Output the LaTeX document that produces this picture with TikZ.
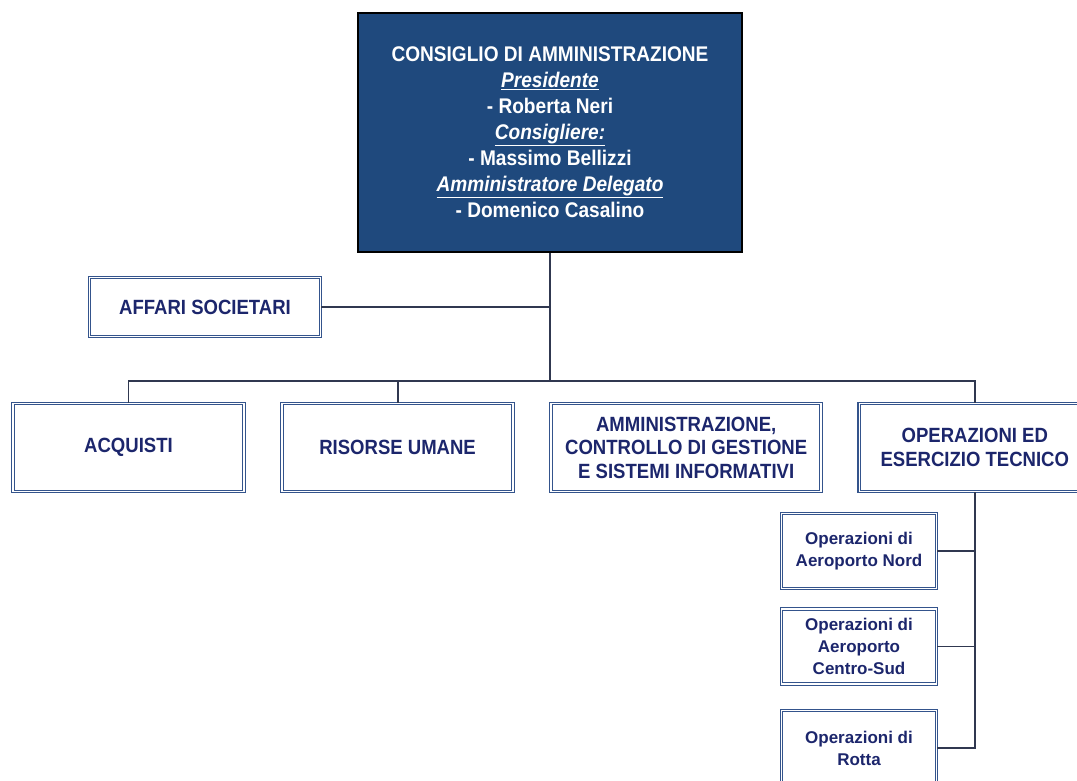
\documentclass[tikz,border=0pt]{standalone}
\usepackage{fontspec}
\setmainfont{Liberation Sans}
\newfontfamily\narrowfont{Liberation Sans}[FakeStretch=0.9]
\usepackage{tikz}
\usetikzlibrary{positioning}
\definecolor{boardblue}{RGB}{31,73,125}
\definecolor{boxblue}{RGB}{52,84,140}
\definecolor{labelblue}{RGB}{28,38,108}
\definecolor{linegray}{RGB}{48,56,80}

\begin{document}
\begin{tikzpicture}[
 x=1pt,y=-1pt,
 node distance=37pt,
 boardbox/.style={rectangle,draw=black,line width=2.4pt,fill=boardblue,
   text=white,minimum width=384pt,minimum height=239pt,align=center,
   font=\narrowfont\bfseries\fontsize{21.2}{26}\selectfont},
 unitbox/.style={rectangle,draw=boxblue,line width=1.1pt,double=white,
   double distance=1.6pt,text=labelblue,align=center,
   minimum width=231pt,minimum height=88pt,
   font=\narrowfont\bfseries\fontsize{20.6}{23.5}\selectfont},
 subbox/.style={unitbox,minimum width=155pt,minimum height=75pt,
   font=\bfseries\fontsize{17}{22}\selectfont},
 conn/.style={draw=linegray,line width=1.8pt}]
 \clip (0,0) rectangle (1077,780);
 \node[boardbox] (board) at (550,132.5)
   {CONSIGLIO DI AMMINISTRAZIONE\\
    \underline{\itshape Presidente}\\
    - Roberta Neri\\
    \underline{\itshape Consigliere:}\\
    - Massimo Bellizzi\\
    \underline{\itshape Amministratore Delegato}\\
    - Domenico Casalino};
 \node[unitbox,minimum height=59pt] (affari) at (205,307) {AFFARI SOCIETARI};
 \node[unitbox] (acquisti) at (128.5,447.5) {ACQUISTI};
 \node[unitbox,right=of acquisti] (risorse) {RISORSE UMANE};
 \node[unitbox,minimum width=270pt,right=of risorse] (ammin)
   {AMMINISTRAZIONE,\\CONTROLLO DI GESTIONE\\E SISTEMI INFORMATIVI};
 \node[unitbox,right=of ammin] (operaz) {OPERAZIONI ED\\ESERCIZIO TECNICO};
 \node[subbox] (nord) at (859,551) {Operazioni di\\Aeroporto Nord};
 \node[subbox] (centrosud) at (859,646.5)
   {Operazioni di\\Aeroporto\\Centro-Sud};
 \node[subbox] (rotta) at (859,748) {Operazioni di\\Rotta};
 \coordinate (hub) at (550,381);
 % board to bus and staff office
 \draw[conn] (board.south) -- (hub);
 \draw[conn] (affari.east) -- (affari.east -| hub);
 % bus to the four units
 \draw[conn] (acquisti.north) |- (operaz.north |- hub) -- (operaz.north);
 \draw[conn] (risorse.north) -- (risorse.north |- hub);
 % operations branches
 \draw[conn] (operaz.south) |- (rotta.east);
 \draw[conn] (nord.east) -- (nord.east -| operaz.south);
 \draw[conn] (centrosud.east) -- (centrosud.east -| operaz.south);
\end{tikzpicture}
\end{document}
